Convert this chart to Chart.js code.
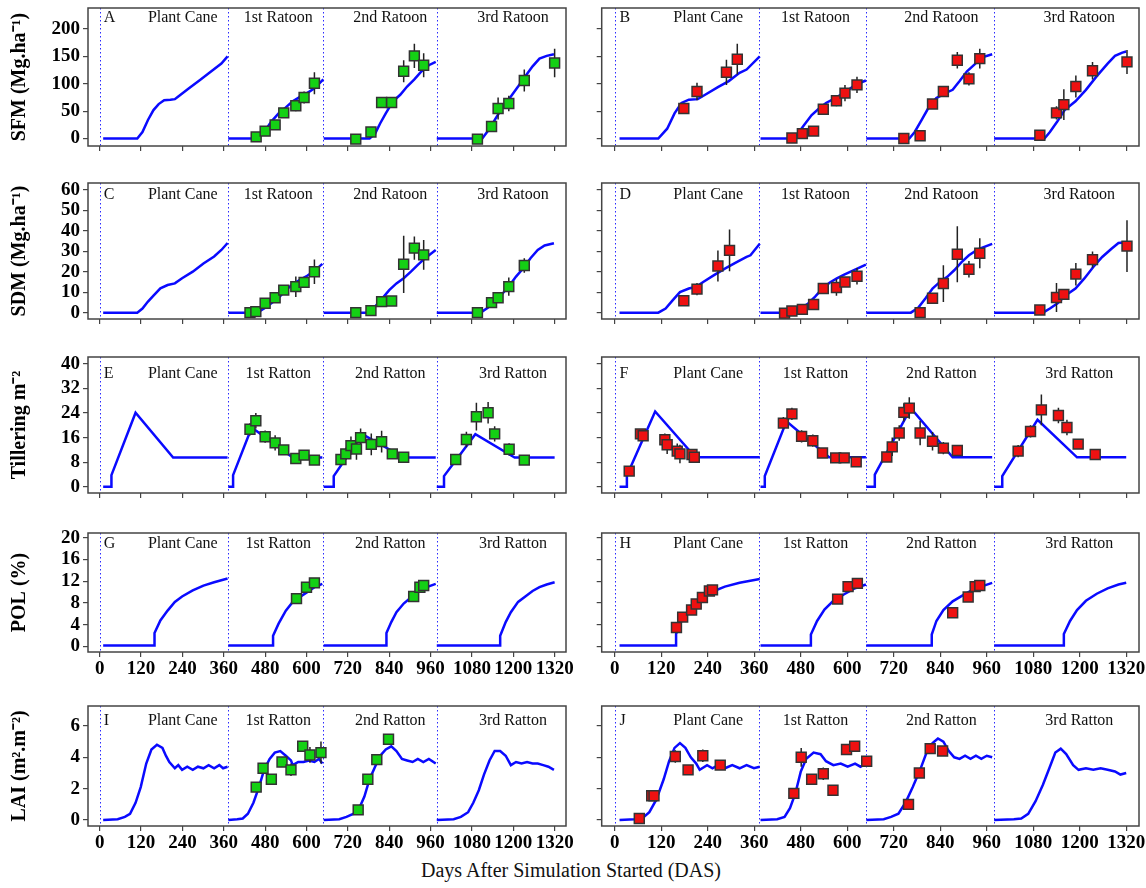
<!DOCTYPE html>
<html>
<head>
<meta charset="utf-8">
<script src="https://cdn.jsdelivr.net/npm/chart.js@4.4.1/dist/chart.umd.min.js"></script>
<style>
  html, body { margin: 0; padding: 0; background: #fff; width: 1146px; height: 888px; overflow: hidden; }
  .panel { position: absolute; }
  #xTitle { position: absolute; left: 571px; top: 859px; transform: translateX(-50%); white-space: nowrap;
            font: 20px "Liberation Serif", serif; color: #111; }
</style>
</head>
<body>
<div id="xTitle">Days After Simulation Started (DAS)</div>
<script>
// ---- data (days after simulation started, value, error) ----
const dasTicks = [0, 120, 240, 360, 480, 600, 720, 840, 960, 1080, 1200, 1320];
const seasonStarts = [0, 373, 649, 978];
const sfmTicks = [0, 50, 100, 150, 200];
const sdmTicks = [0, 10, 20, 30, 40, 50, 60];
const tillerTicks = [0, 8, 16, 24, 32, 40];
const polTicks = [0, 4, 8, 12, 16, 20];
const laiTicks = [0, 2, 4, 6];
const seasonsRatoon = ['Plant Cane', '1st Ratoon', '2nd Ratoon', '3rd Ratoon'];
const seasonsRatton = ['Plant Cane', '1st Ratton', '2nd Ratton', '3rd Ratton'];

// simulated curves, one array per season: [day, value]
const simA = [
  [[10,0],[109,0],[124,12],[140,34],[156,52],[171,63],[187,70],[205,71],[218,72],[228,77],[259,92],[291,107],[322,122],[353,137],[371,150]],
  [[373,0],[457,0],[477,12],[498,31],[519,46],[540,57],[560,68],[581,76],[602,83],[623,92],[649,108]],
  [[650,0],[783,0],[799,9],[814,28],[830,46],[851,68],[872,80],[892,95],[913,108],[934,123],[955,134],[975,140]],
  [[978,0],[1110,0],[1131,18],[1152,40],[1173,60],[1193,77],[1214,95],[1235,114],[1256,132],[1276,146],[1297,151],[1318,154]]
];
const obsA = [
  [454,3,2],[480,13.5,3],[509,25,4],[534,47,5],[569,60,10],[593,75,11],[623,101,20],
  [743,-1,0],[787,12,6],[818,66,3],[847,66,4],[882,123,20],[913,151,22],[940,134,22],
  [1096,-1,0],[1137,22,8],[1156,55,20],[1187,64,14],[1232,106,20],[1320,138,26]
];
const simB = [
  [[12,0],[112,0],[135,18],[154,46],[172,65],[191,71],[214,72],[233,80],[266,94],[294,105],[322,120],[340,126],[374,150]],
  [[376,0],[457,0],[471,8],[489,25],[508,43],[527,55],[545,65],[564,72],[583,80],[601,88],[620,98],[648,106]],
  [[649,0],[760,0],[774,12],[792,34],[811,58],[830,74],[853,83],[872,89],[890,105],[909,123],[928,135],[946,148],[974,154]],
  [[979,0],[1109,0],[1123,12],[1142,31],[1161,52],[1189,68],[1216,89],[1244,114],[1272,137],[1291,151],[1310,157],[1320,159]]
];
const obsB = [
  [178,55,6],[212,86,16],[288,121,23],[316,145,28],
  [457,1,0],[484,9,0],[513,13.5,0],[538,53.5,5],[572,69,10],[594,83,15],[625,98,15],
  [746,0,0],[788,5,0],[820,63,8],[848,86,8],[884,143,15],[914,109,12],[942,146,18],
  [1097,6,0],[1140,47,12],[1159,62,28],[1190,95,20],[1233,124,16],[1322,140,22]
];
const simC = [
  [[10,0],[109,0],[124,2],[140,5.4],[156,8.3],[176,11.9],[197,13.5],[218,14.3],[239,16.8],[270,20],[301,24],[332,27.4],[353,30.6],[371,34]],
  [[373,0],[457,0],[477,2],[498,4.6],[519,7.3],[540,11],[560,13.9],[581,16],[602,18],[623,20.4],[646,23.8]],
  [[650,0],[778,0],[799,3],[820,7],[840,11],[861,14.3],[882,16.8],[903,20],[923,23.3],[944,26.6],[975,30.6]],
  [[978,0],[1105,0],[1126,2.4],[1146,5.4],[1167,9],[1188,13],[1208,17.6],[1229,21.7],[1250,26.6],[1271,30.6],[1291,32.8],[1318,33.9]]
];
const obsC = [
  [436,0,0],[453,0.5,0],[480,4.6,1],[509,7.3,2],[534,11,2],[569,12.7,5],[593,14.8,2],[623,20,6],
  [743,0,0],[787,1,1],[818,5.4,1],[847,5.7,0.5],[882,23.6,14],[913,31.5,5.7],[940,28.2,7.3],
  [1096,0,0],[1137,4.9,1.5],[1156,7.3,2],[1187,12.7,4.5],[1232,23,3.5]
];
const simD = [
  [[12,0],[112,0],[131,2],[149,6],[168,10],[191,11.8],[210,12.6],[228,15],[256,18.3],[284,21.5],[312,24.4],[340,27.2],[350,28],[374,33.6]],
  [[376,0],[461,0],[480,2],[499,4.5],[517,7.8],[536,11.8],[555,14.7],[573,16.7],[592,18.6],[620,21],[648,23.4]],
  [[649,0],[764,0],[783,2.4],[802,7],[820,11.8],[839,15],[858,17.5],[876,20.7],[895,24.7],[914,28],[937,30.9],[974,33.6]],
  [[979,0],[1105,0],[1123,2],[1142,4.5],[1165,8.6],[1189,11.8],[1212,16.7],[1235,22.3],[1258,27.2],[1282,31.2],[1300,34],[1320,34.4]]
];
const obsD = [
  [178,5.8,0],[212,11.5,3],[266,22.8,7.6],[296,30.4,10.2],
  [438,-0.3,0],[457,0.8,0],[484,1.6,0],[513,4,2],[538,11.8,0],[572,12.3,4],[594,15,2],[625,17.8,4],
  [788,0,0],[820,7,0],[848,14.2,9],[884,28.5,13.7],[914,21.2,4],[942,29,7.3],
  [1097,1.3,0],[1140,7.4,7.1],[1159,8.9,2.5],[1190,18.8,5.5],[1233,25.9,4],[1322,32.5,12.6]
];
const simE = [
  [[10,0],[34,0],[34,3.8],[104,24.1],[213,9.5],[371,9.5]],
  [[373,0],[387,0],[387,3.8],[441,19.3],[560,9.5],[646,9.5]],
  [[650,0],[679,0],[679,3.5],[762,17.1],[882,9.5],[975,9.5]],
  [[978,0],[999,0],[999,3.5],[1090,17.1],[1204,9.5],[1320,9.5]]
];
const obsE = [
  [436,18.7,2],[453,21.5,2.5],[480,16.3,2],[509,14.3,2.5],[534,12,1.5],[569,9.2,1.5],[593,10.3,1.5],[623,8.7,0.5],
  [700,8.9,1.5],[714,10.7,2],[729,13.4,3],[745,12.3,3.5],[757,16,3],[788,13.8,3.5],[818,14.7,3.5],[849,10.7,1],[882,9.6,1],
  [1033,8.9,0.5],[1064,15.4,2.5],[1093,22.8,4.5],[1127,24.1,3.5],[1146,17.2,2.5],[1188,12.2,2],[1232,8.7,1]
];
const simF = [
  [[12,0],[31,0],[31,3.7],[104,24.5],[208,9.6],[374,9.6]],
  [[376,0],[387,0],[387,3.5],[443,21.3],[553,9.6],[648,9.6]],
  [[649,0],[671,0],[671,4],[764,25.6],[872,9.6],[974,9.6]],
  [[979,0],[1000,0],[1000,3.5],[1091,21.8],[1193,9.6],[1320,9.6]]
];
const obsF = [
  [37,5.1,1],[66,17.2,1],[73,16.6,1],[129,15.3,2],[135,13.7,3],[161,11.6,2.5],[168,10.7,3],[199,10.5,1],[205,9.6,1.5],
  [435,20.7,2],[457,23.7,2],[482,16.4,2],[511,15,2],[536,11,1],[570,9.4,1.5],[592,9.4,1.5],[623,8.1,1.5],
  [702,9.7,1.5],[716,13,3],[734,17.5,2.5],[746,24.2,3],[760,25.6,3.5],[788,17.5,4],[820,14.8,3],[848,12.6,2],[884,11.8,1],
  [1041,11.6,2],[1073,18,2],[1101,25,5],[1145,23.2,2.5],[1167,19.3,2.5],[1196,13.9,1.5],[1240,10.5,1.5]
];
const simG = [
  [[10,0.2],[159,0.2],[159,2.5],[176,4.8],[197,6.6],[218,8.2],[239,9.2],[270,10.3],[301,11.2],[332,11.8],[371,12.5]],
  [[373,0.2],[503,0.2],[503,2],[519,4.2],[540,6.6],[560,8.2],[581,9.1],[602,10],[623,10.9],[646,11.5]],
  [[650,0.2],[832,0.2],[832,2.5],[846,4.5],[861,6.3],[882,7.9],[903,9],[923,10],[949,10.9],[975,11.5]],
  [[978,0.2],[1162,0.2],[1162,2],[1178,4.5],[1193,6.3],[1214,8.2],[1235,9.2],[1256,10.2],[1276,10.9],[1297,11.4],[1320,11.8]]
];
const obsG = [[571,8.8,0],[600,10.9,0],[623,11.7,0],[911,9.2,0],[929,10.9,0],[940,11.2,0]];
const simH = [
  [[12,0.2],[158,0.2],[158,2.3],[172,4.7],[191,6.7],[210,8.1],[233,9.3],[256,10.2],[284,11],[322,11.7],[374,12.4]],
  [[376,0.2],[506,0.2],[506,2.2],[522,4.7],[541,6.8],[564,8.4],[592,9.6],[620,10.7],[648,11.4]],
  [[649,0.2],[818,0.2],[818,2.2],[830,4.7],[848,6.7],[872,8.3],[900,9.5],[928,10.6],[974,11.7]],
  [[979,0.2],[1159,0.2],[1159,2.3],[1175,4.7],[1193,6.7],[1216,8.4],[1244,9.7],[1272,10.7],[1300,11.4],[1320,11.7]]
];
const obsH = [
  [159,3.5,0],[175,5.4,0.3],[198,6.7,0],[210,7.8,0],[226,9,0],[244,10.2,0],[252,10.4,0],
  [575,8.7,0],[602,11,0],[626,11.6,0],
  [872,6.2,0],[912,9.1,0],[930,11,0],[942,11.2,0]
];
const simI = [
  [[10,0],[52,0.05],[73,0.2],[88,0.4],[104,1.1],[119,2.1],[135,3.6],[150,4.5],[166,4.8],[182,4.6],[192,4.1],[202,3.7],[218,3.3],[228,3.5],[239,3.2],[254,3.4],[270,3.2],[285,3.4],[301,3.3],[316,3.5],[332,3.3],[347,3.5],[358,3.3],[371,3.4]],
  [[373,0],[399,0.05],[415,0.1],[430,0.4],[446,1.1],[462,2.1],[477,3.2],[493,3.9],[508,4.3],[524,4.4],[540,4.1],[555,3.8],[560,3.5],[576,3.7],[591,3.7],[607,3.8],[623,3.7],[636,3.9],[646,3.6]],
  [[650,0],[695,0.05],[716,0.2],[737,0.4],[752,0.7],[768,1.5],[783,2.6],[799,3.4],[814,4.1],[830,4.5],[846,4.7],[861,4.4],[877,3.9],[892,3.8],[908,3.7],[923,3.9],[939,3.7],[955,3.9],[975,3.6]],
  [[978,0],[1027,0.05],[1048,0.2],[1069,0.5],[1084,1.1],[1100,1.9],[1115,2.9],[1131,3.8],[1146,4.4],[1162,4.4],[1178,4.1],[1193,3.5],[1208,3.7],[1224,3.6],[1240,3.7],[1256,3.6],[1271,3.6],[1287,3.5],[1302,3.4],[1318,3.2]]
];
const obsI = [
  [454,2.1,0.2],[474,3.3,0.3],[498,2.6,0],[529,3.7,0.3],[555,3.2,0.4],[589,4.7,0.3],[610,4.15,0.5],[642,4.3,0.7],
  [750,0.65,0],[778,2.6,0],[804,3.85,0],[838,5.15,0.3]
];
const simJ = [
  [[12,0],[51,0.05],[70,0.1],[89,0.5],[107,1.3],[126,2.6],[140,3.75],[154,4.6],[168,4.9],[182,4.6],[196,4],[210,3.6],[219,3.2],[238,3.5],[252,3.3],[266,3.5],[284,3.3],[303,3.5],[322,3.3],[340,3.5],[359,3.3],[374,3.4]],
  [[376,0],[419,0.05],[438,0.2],[452,0.75],[466,1.7],[480,3.1],[494,3.9],[513,4.3],[531,4.2],[545,3.75],[564,3.5],[583,3.6],[601,3.4],[620,3.6],[634,3.4],[648,3.6]],
  [[649,0],[694,0.05],[713,0.2],[732,0.4],[750,1.1],[769,2.1],[788,3.2],[806,4.4],[820,4.9],[834,5.2],[848,5],[862,4.4],[876,4],[890,3.9],[904,4.1],[918,3.9],[932,4.1],[946,3.9],[960,4.1],[974,4]],
  [[979,0],[1030,0.05],[1049,0.1],[1067,0.4],[1086,1.2],[1105,2.25],[1123,3.4],[1137,4.3],[1151,4.55],[1165,4.2],[1183,3.5],[1197,3.2],[1216,3.3],[1235,3.2],[1254,3.3],[1272,3.2],[1291,3.1],[1305,2.9],[1320,3]]
];
const obsJ = [
  [63,0.1,0],[95,1.55,0],[101,1.55,0],[156,4.05,0.4],[189,3.2,0.3],[227,4.1,0.4],[272,3.5,0.2],
  [462,1.7,0.2],[481,4,0.6],[508,2.6,0],[538,2.95,0.4],[563,1.9,0],[598,4.5,0.3],[619,4.7,0],[650,3.75,0],
  [758,1,0],[786,3,0],[814,4.55,0],[846,4.4,0]
];

// ---- layout ----
const serif = '"Liberation Serif", "Times New Roman", serif';
const seasonLabelDays = [241, 518, 843, 1199];
const columns = [
  { left: 0,   width: 580, yWidth: 88,  padRight: 14, showY: true,  obsColor: '#14d014' },
  { left: 592, width: 556, yWidth: 9.7, padRight: 9,  showY: false, obsColor: '#ee1111' }
];
const rows = [
  { top: 8,   bottom: 146, min: -13.6, max: 238.5, ticks: sfmTicks,    title: 'SFM (Mg.ha⁻¹)', labelY: 220,  names: seasonsRatoon, xLabels: false },
  { top: 183, bottom: 319, min: -3.1,  max: 63.3,  ticks: sdmTicks,    title: 'SDM (Mg.ha⁻¹)', labelY: 57.6, names: seasonsRatoon, xLabels: false },
  { top: 357, bottom: 493, min: -2.0,  max: 42.2,  ticks: tillerTicks, title: 'Tillering m⁻²', labelY: 36.7, names: seasonsRatton, xLabels: false },
  { top: 533, bottom: 652, min: -1.0,  max: 20.85, ticks: polTicks,    title: 'POL (%)',       labelY: 18.8, names: seasonsRatton, xLabels: true },
  { top: 706, bottom: 826, min: -0.38, max: 7.27,  ticks: laiTicks,    title: 'LAI (m².m⁻²)',  labelY: 6.3,  names: seasonsRatton, xLabels: true }
];
const panels = [
  ['A', 0, 0, simA, obsA], ['B', 0, 1, simB, obsB],
  ['C', 1, 0, simC, obsC], ['D', 1, 1, simD, obsD],
  ['E', 2, 0, simE, obsE], ['F', 2, 1, simF, obsF],
  ['G', 3, 0, simG, obsG], ['H', 3, 1, simH, obsH],
  ['I', 4, 0, simI, obsI], ['J', 4, 1, simJ, obsJ]
];

// dotted season dividers + box frame
const framePlugin = {
  id: 'frame',
  beforeDatasetsDraw(chart) {
    const { ctx, chartArea: a, scales: { x } } = chart;
    ctx.save();
    ctx.strokeStyle = '#2a2aff';
    ctx.lineWidth = 1;
    ctx.setLineDash([1.5, 2.5]);
    seasonStarts.forEach(d => {
      const px = Math.round(x.getPixelForValue(d)) + 0.5;
      ctx.beginPath();
      ctx.moveTo(px, a.top);
      ctx.lineTo(px, a.bottom);
      ctx.stroke();
    });
    ctx.restore();
  },
  afterDraw(chart) {
    const { ctx, chartArea: a } = chart;
    ctx.save();
    ctx.strokeStyle = '#444';
    ctx.lineWidth = 1.5;
    ctx.strokeRect(a.left, a.top, a.right - a.left, a.bottom - a.top);
    ctx.restore();
  }
};

// vertical error bars, drawn just before the observed squares
const errorBarPlugin = {
  id: 'errorBars',
  beforeDatasetDraw(chart, args, opts) {
    if (args.index !== 0) return;
    const { ctx, scales: { x, y } } = chart;
    ctx.save();
    ctx.strokeStyle = '#222';
    ctx.lineWidth = 1.5;
    ctx.beginPath();
    opts.obs.forEach(([d, v, e]) => {
      if (!e) return;
      const px = x.getPixelForValue(d);
      ctx.moveTo(px, y.getPixelForValue(v - e));
      ctx.lineTo(px, y.getPixelForValue(v + e));
    });
    ctx.stroke();
    ctx.restore();
  }
};

// panel letter and season names
const labelPlugin = {
  id: 'seasonLabels',
  afterDatasetsDraw(chart, args, opts) {
    const { ctx, scales: { x, y } } = chart;
    const py = y.getPixelForValue(opts.labelY);
    ctx.save();
    ctx.fillStyle = '#111';
    ctx.font = '16px ' + serif;
    ctx.textBaseline = 'middle';
    ctx.textAlign = 'left';
    ctx.fillText(opts.letter, x.getPixelForValue(12), py);
    ctx.textAlign = 'center';
    opts.names.forEach((n, i) => ctx.fillText(n, x.getPixelForValue(seasonLabelDays[i]), py));
    ctx.restore();
  }
};

panels.forEach(([letter, r, c, sim, obs]) => {
  const row = rows[r], col = columns[c];
  const xH = row.xLabels ? 29 : 6;
  const div = document.createElement('div');
  div.className = 'panel';
  div.style.left = col.left + 'px';
  div.style.top = (row.top - 16) + 'px';
  div.style.width = col.width + 'px';
  div.style.height = (row.bottom - row.top + 16 + xH + 10) + 'px';
  const canvas = document.createElement('canvas');
  div.appendChild(canvas);
  document.body.appendChild(div);

  const datasets = [{
    data: obs.map(([d, v]) => ({ x: d, y: v })),
    showLine: false,
    pointStyle: 'rect',
    pointRadius: 7,
    pointBackgroundColor: col.obsColor,
    pointBorderColor: '#333',
    pointBorderWidth: 1.5
  }];
  sim.forEach(seg => datasets.push({
    data: seg.map(([d, v]) => ({ x: d, y: v })),
    borderColor: '#0a0aff',
    borderWidth: 2.5,
    pointRadius: 0,
    tension: 0,
    fill: false
  }));

  const tickFont = { family: serif, size: 19, weight: 'bold' };
  const gridOpts = { drawOnChartArea: false, drawTicks: true, tickLength: 5, color: '#444', lineWidth: 1.2 };

  new Chart(canvas, {
    type: 'line',
    data: { datasets },
    options: {
      responsive: true,
      maintainAspectRatio: false,
      animation: false,
      layout: { padding: { top: 16, bottom: 10, left: 0, right: col.padRight } },
      plugins: {
        legend: { display: false },
        tooltip: { enabled: false },
        errorBars: { obs },
        seasonLabels: { letter, names: row.names, labelY: row.labelY }
      },
      scales: {
        x: {
          type: 'linear', min: -34, max: 1353,
          afterBuildTicks: s => { s.ticks = dasTicks.map(v => ({ value: v })); },
          afterFit: s => { s.height = xH; },
          grid: gridOpts,
          border: { display: false },
          ticks: { display: row.xLabels, autoSkip: false, maxRotation: 0, minRotation: 0, padding: 1, color: '#000', font: tickFont,
                   callback: v => String(v) }
        },
        y: {
          type: 'linear', min: row.min, max: row.max,
          afterBuildTicks: s => { s.ticks = row.ticks.map(v => ({ value: v })); },
          afterFit: s => { s.width = col.yWidth; },
          grid: gridOpts,
          border: { display: false },
          ticks: { display: col.showY, autoSkip: false, padding: 3, color: '#000', font: tickFont, callback: v => String(v) },
          title: { display: col.showY, text: row.title, color: '#000', padding: { top: 8, bottom: 0 }, font: { family: serif, size: 20, weight: 'bold' } }
        }
      }
    },
    plugins: [framePlugin, errorBarPlugin, labelPlugin]
  });
});
</script>
</body>
</html>
